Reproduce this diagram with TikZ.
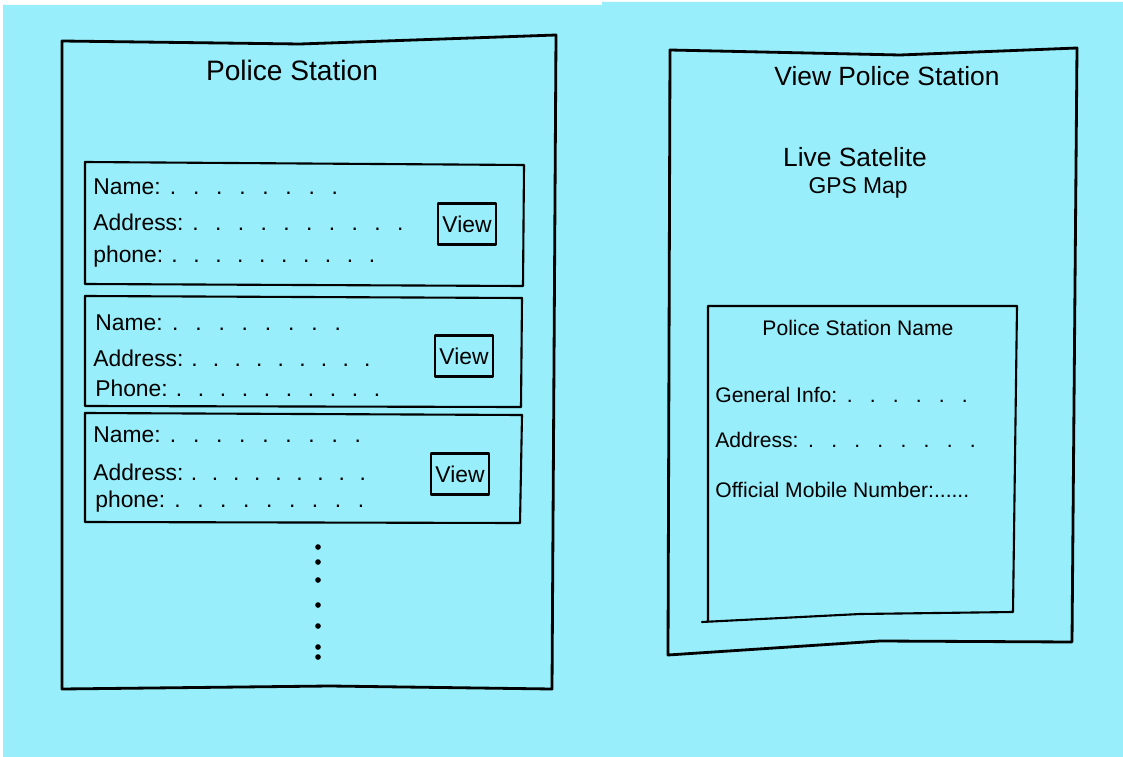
\documentclass[tikz,border=0pt]{standalone}
\usepackage{fontspec}
\setmainfont{Liberation Sans}
\definecolor{paper}{RGB}{152,238,250}
% one unit of the picture = one pixel of the sketch
\newdimen\pxu \pxu=0.02cm
% label followed by a row of dots, #2 = total width in px
\newcommand{\dotrow}[2]{\makebox[#2\pxu][l]{#1\xleaders\hbox to 12pt{\hss.\hss}\hfill}}

\begin{document}
\begin{tikzpicture}[x=0.02cm,y=-0.02cm,line join=round,line cap=round,
  frame/.style={line width=1.6pt},
  card/.style={line width=1.2pt},
  field/.style={anchor=west,inner sep=0pt,font=\fontsize{13}{15}\selectfont},
  viewbtn/.style={draw,line width=1.3pt,minimum width=1.16cm,minimum height=0.82cm,
                  inner sep=0pt,font=\fontsize{13}{15}\selectfont}]
\useasboundingbox (0,0) rectangle (1123,757);
% paper
\fill[white] (0,0) rectangle (1123,757);
\fill[paper] (3,5) -- (602,5) -- (602,2) -- (1123,2) -- (1123,757) -- (3,757) -- cycle;
% ---------- left screen: list ----------
\draw[frame] (62,41) -- (300,44) -- (556,35) -- (552,689) -- (330,686) -- (62,689) -- cycle;
\node[font=\fontsize{16}{18}\selectfont] (ltitle) at (292,70) {Police Station};
% card 1
\draw[card] (85,162) -- (524,165) -- (523,286) -- (85,284) -- cycle;
\node[field] (name1)  at (93,187) {\dotrow{Name:}{254}};
\node[field] (addr1)  at (93,222) {\dotrow{Address:}{319}};
\node[field] (phone1) at (93,257) {\dotrow{phone:}{290}};
\node[viewbtn] (view1) at (467,224) {View};
% card 2
\draw[card] (85,296) -- (522,298) -- (521,407) -- (85,406) -- cycle;
\node[field] (name2)  at (95,323) {\dotrow{Name:}{255}};
\node[field] (addr2)  at (93,358) {\dotrow{Address:}{285}};
\node[field] (phone2) at (95,388) {\dotrow{Phone:}{293}};
\node[viewbtn] (view2) at (464,356) {View};
% card 3
\draw[card] (85,413) -- (522,415) -- (520,523) -- (85,522) -- cycle;
\node[field] (name3)  at (93,435) {\dotrow{Name:}{277}};
\node[field] (addr3)  at (93,472) {\dotrow{Address:}{280}};
\node[field] (phone3) at (95,502) {\dotrow{phone:}{278}};
\node[viewbtn] (view3) at (460,474) {View};
% more cards below
\foreach \y in {547,562,580,605,626,647,657}
  \fill (318,\y) circle (1.6pt);
% ---------- right screen: details ----------
\draw[frame] (670,50) -- (900,55) -- (1077,48) -- (1072,642) -- (880,641) -- (668,655) -- cycle;
\node[font=\fontsize{15}{17}\selectfont] (rtitle) at (887,76) {View Police Station};
\node[font=\fontsize{15}{17}\selectfont] (live) at (855,157) {Live Satelite};
\node[font=\fontsize{13}{15}\selectfont] (gps) at (858,188) {GPS Map};
% info box
\draw[card] (708,621) -- (708,306) -- (1017,306) -- (1013,612) -- (860,614) -- (702,622);
\node[font=\fontsize{12}{14}\selectfont] (psname) at (858,328) {Police Station Name};
\node[field,font=\fontsize{12}{14}\selectfont] (info) at (715,395) {\dotrow{General Info:}{262}};
\node[field,font=\fontsize{12}{14}\selectfont] (addr) at (715,440) {\dotrow{Address:}{270}};
\node[field,font=\fontsize{12}{14}\selectfont] (mobile) at (715,490) {Official Mobile Number:......};
\end{tikzpicture}
\end{document}
